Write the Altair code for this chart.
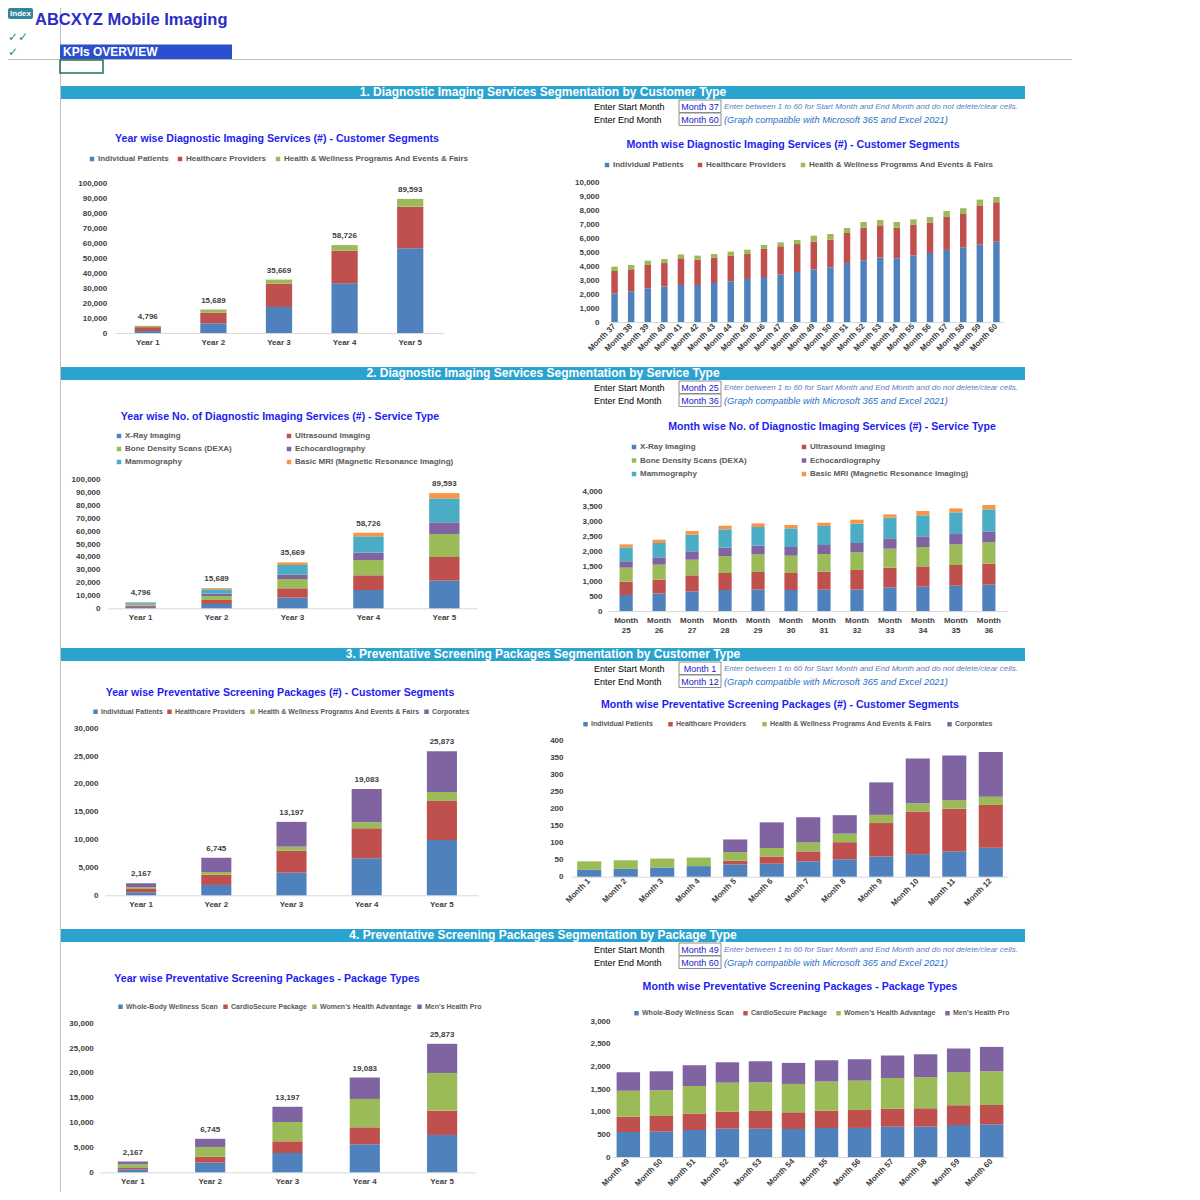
import altair as alt
import pandas as pd

# ---------------- data ----------------
years = ["Year 1", "Year 2", "Year 3", "Year 4", "Year 5"]
months_37_60 = ["Month %d" % i for i in range(37, 61)]
months_25_36 = ["Month %d" % i for i in range(25, 37)]
months_1_12 = ["Month %d" % i for i in range(1, 13)]
months_49_60 = ["Month %d" % i for i in range(49, 61)]

cust3 = ["Individual Patients", "Healthcare Providers",
         "Health & Wellness Programs And Events & Fairs"]
cust4 = cust3 + ["Corporates"]
services = ["X-Ray Imaging", "Ultrasound Imaging", "Bone Density Scans (DEXA)",
            "Echocardiography", "Mammography", "Basic MRI (Magnetic Resonance Imaging)"]
packages = ["Whole-Body Wellness Scan", "CardioSecure Package",
            "Women's Health Advantage", "Men's Health Pro"]

# 1. Diagnostic imaging - customer segments (yearly)
dy_ip = [1300, 6500, 17400, 33200, 56600]
dy_hp = [2600, 7100, 15600, 21800, 27800]
dy_hw = [896, 2089, 2669, 3726, 5193]
# 1. monthly (Month 37 - 60)
dm_ip = [2050, 2200, 2410, 2550, 2650, 2650, 2790, 2910, 3080, 3220, 3390, 3580,
         3750, 3910, 4220, 4420, 4610, 4560, 4750, 4940, 5160, 5350, 5540, 5750]
dm_hp = [1600, 1570, 1670, 1670, 1910, 1810, 1820, 1820, 1790, 2010, 2030, 2000,
         2000, 1980, 2150, 2330, 2310, 2190, 2200, 2170, 2360, 2380, 2810, 2820]
dm_hw = [310, 310, 310, 290, 280, 290, 260, 310, 310, 280, 280, 290,
         430, 410, 360, 410, 380, 410, 400, 410, 430, 410, 410, 380]

# 2. Diagnostic imaging - service type (yearly)
sy_xr = [1100, 3370, 8290, 14250, 21500]
sy_us = [950, 3110, 7250, 11400, 18400]
sy_dx = [950, 3110, 7260, 11910, 17900]
sy_ec = [480, 1810, 3370, 5700, 9040]
sy_mm = [1070, 3370, 7510, 12700, 18650]
sy_mr = [246, 919, 1989, 2766, 4103]
# 2. monthly (Month 25 - 36)
sm_xr = [535, 580, 657, 702, 713, 702, 713, 713, 791, 813, 846, 880]
sm_us = [445, 467, 535, 568, 590, 568, 601, 657, 657, 679, 691, 701]
sm_dx = [468, 501, 523, 567, 590, 579, 590, 590, 634, 646, 690, 713]
sm_ec = [212, 245, 278, 279, 290, 289, 301, 312, 346, 356, 345, 367]
sm_mm = [467, 479, 557, 612, 623, 624, 635, 646, 690, 702, 724, 735]
sm_mr = [100, 111, 122, 122, 123, 111, 111, 133, 111, 145, 134, 145]

# 3. Preventative screening - customer segments (yearly)
py_ip = [555, 1860, 4070, 6650, 9940]
py_hp = [584, 1850, 3950, 5390, 7010]
py_hw = [299, 480, 720, 1070, 1610]
py_co = [729, 2555, 4457, 5973, 7313]
# 3. monthly (Month 1 - 12)
pm_ip = [20, 23, 27, 31, 36, 38, 45, 51, 59, 66, 74, 85]
pm_hp = [0, 0, 0, 0, 11, 21, 29, 50, 98, 125, 125, 125]
pm_hw = [25, 25, 26, 25, 25, 25, 26, 25, 24, 24, 25, 24]
pm_co = [0, 0, 0, 0, 37, 75, 74, 54, 95, 131, 131, 131]

# 4. Preventative screening - package types (yearly)
ky_wb = [600, 1950, 3890, 5640, 7520]
ky_cs = [270, 1200, 2350, 3420, 4900]
ky_wh = [740, 1950, 3890, 5710, 7580]
ky_mh = [557, 1645, 3067, 4313, 5873]
# 4. monthly (Month 49 - 60)
km_wb = [553, 560, 597, 627, 627, 619, 642, 642, 671, 671, 708, 723]
km_cs = [339, 347, 362, 376, 391, 369, 383, 398, 398, 406, 435, 427]
km_wh = [575, 568, 612, 641, 634, 627, 642, 649, 679, 686, 730, 746]
km_mh = [406, 420, 458, 450, 465, 465, 472, 472, 494, 508, 524, 538]

section_titles = [
    "1. Diagnostic Imaging Services Segmentation by Customer Type",
    "2. Diagnostic Imaging Services Segmentation by Service Type",
    "3. Preventative Screening Packages Segmentation by Customer Type",
    "4. Preventative Screening Packages Segmentation by Package Type",
]
start_months = ["Month 37", "Month 25", "Month 1", "Month 49"]
end_months = ["Month 60", "Month 36", "Month 12", "Month 60"]

# ---------------- style ----------------
FONT = "Liberation Sans"
BLUE, RED, GREEN = "#4F81BD", "#C0504D", "#9BBB59"
PURPLE, CYAN, ORANGE = "#8064A2", "#4BACC6", "#F79646"
TITLE_C = "#1E1EF0"
AX_C = "#404040"
W, H = 1184, 1184

one = pd.DataFrame({"k": [0]})


def txt(s, x, y, size, color, weight="normal", align="left", style="normal", font=FONT):
    return alt.Chart(one).mark_text(
        text=s, align=align, baseline="middle", fontSize=size, fontWeight=weight,
        fontStyle=style, color=color, font=font
    ).encode(x=alt.value(x), y=alt.value(y))


def box(x1, y1, x2, y2, fill, stroke=None, sw=1.0, opacity=1.0, radius=0):
    kw = dict(fill=fill, fillOpacity=opacity, cornerRadius=radius)
    if stroke:
        kw.update(stroke=stroke, strokeWidth=sw)
    return alt.Chart(one).mark_rect(**kw).encode(
        x=alt.value(x1), x2=alt.value(x2), y=alt.value(y1), y2=alt.value(y2))


def line(x1, y1, x2, y2, color, sw=1.0):
    return alt.Chart(one).mark_rule(color=color, strokeWidth=sw).encode(
        x=alt.value(x1), x2=alt.value(x2), y=alt.value(y1), y2=alt.value(y2))


def stacked(cats, names, values, colors, xr, pi, po, yr, ydom, ystep, ylab,
            leg, totals=False, xlab="flat"):
    rows = []
    for si, (nm, vals) in enumerate(zip(names, values)):
        for c, v in zip(cats, vals):
            rows.append({"cat": c, "series": nm, "value": v, "idx": si})
    df = pd.DataFrame(rows)
    xscale = alt.Scale(range=xr, paddingInner=pi, paddingOuter=po)
    yscale = alt.Scale(domain=ydom, range=yr, nice=False, zero=True)
    xax = dict(orient="bottom", offset=-(H - yr[0]), domain=True, domainColor="#D9D9D9",
               ticks=False, grid=False, title=None, labelFont=FONT, labelFontSize=8,
               labelFontWeight="bold", labelColor=AX_C, labelOverlap=False)
    if xlab == "flat":
        xax.update(labelAngle=0, labelPadding=5, labelBaseline="top")
    elif xlab == "two":
        xax.update(labelAngle=0, labelPadding=5, labelBaseline="top",
                   labelExpr="split(datum.label, ' ')", labelLineHeight=10)
    else:
        xax.update(labelAngle=315, labelAlign="right", labelBaseline="middle",
                   labelPadding=3)
    yvals = list(range(ydom[0], ydom[1] + 1, ystep))
    yax = dict(orient="left", offset=-ylab, domain=False, ticks=False, grid=False,
               values=yvals, format=",d", title=None, labelFont=FONT,
               labelFontSize=8, labelFontWeight="bold", labelColor=AX_C,
               labelPadding=0, labelOverlap=False)
    legend = alt.Legend(orient="none", legendX=leg["x"], legendY=leg["y"],
                        direction="horizontal", columns=leg.get("cols", len(names)),
                        title=None, symbolType="square", symbolSize=leg.get("sym", 20),
                        symbolStrokeWidth=0, labelFont=FONT,
                        labelFontSize=leg.get("fs", 8), labelFontWeight="bold",
                        labelColor="#595959", columnPadding=leg["cp"],
                        rowPadding=leg.get("rp", 5), labelOffset=2, padding=0,
                        labelLimit=400)
    bars = alt.Chart(df).mark_bar().encode(
        x=alt.X("cat:N", sort=cats, scale=xscale, axis=alt.Axis(**xax)),
        y=alt.Y("value:Q", stack="zero", scale=yscale, axis=alt.Axis(**yax)),
        color=alt.Color("series:N", sort=names,
                        scale=alt.Scale(domain=names, range=colors), legend=legend),
        order=alt.Order("idx:Q", sort="ascending"),
    )
    if not totals:
        return bars
    tdf = pd.DataFrame({"cat": cats, "total": [sum(v) for v in zip(*values)]})
    text = alt.Chart(tdf).mark_text(
        baseline="bottom", dy=-5, fontSize=8, fontWeight="bold", color=AX_C, font=FONT
    ).encode(
        x=alt.X("cat:N", sort=cats, scale=xscale, axis=alt.Axis(**xax)),
        y=alt.Y("total:Q", scale=yscale, axis=alt.Axis(**yax)),
        text=alt.Text("total:Q", format=",d"),
    )
    return alt.layer(bars, text)


layers = []

# ---- page frame ----
layers.append(line(52.5, 0, 52.5, H, "#BFBFBF", 1))
layers.append(line(0, 51.5, 1064, 51.5, "#BFBFBF", 1))
layers.append(box(0, 0, 25, 11, "#31859C", radius=2))
layers.append(txt("Index", 12.5, 5.5, 8, "white", "bold", "center"))
layers.append(txt("ABCXYZ Mobile Imaging", 27, 12, 16.5, "#2B2BC6", "bold"))
layers.append(txt("\u2713\u2713", 0, 29, 12, "#2E8B57", font="DejaVu Sans"))
layers.append(txt("\u2713", 0, 43.5, 12, "#2E8B57", font="DejaVu Sans"))
layers.append(box(52, 36.5, 224, 51, "#2C4FCF"))
layers.append(txt("KPIs OVERVIEW", 55, 44, 12, "white", "bold"))
layers.append(box(52, 52, 95, 65, "white", stroke="#217346", sw=1.5, opacity=0))

# ---- section headers and input blocks ----
for i, T in enumerate([78, 359, 640, 921]):
    layers.append(box(53, T, 1017, T + 13, "#2AA3CF"))
    layers.append(txt(section_titles[i], 535, T + 5.8, 12, "white", "bold", "center"))
    layers.append(txt("Enter Start Month", 586, T + 21, 9, "#000000"))
    layers.append(txt("Enter End Month", 586, T + 34, 9, "#000000"))
    layers.append(box(671, T + 14, 713, T + 26.5, "white", stroke="#8C8C8C", sw=1))
    layers.append(box(671, T + 27, 713, T + 39.5, "white", stroke="#8C8C8C", sw=1))
    layers.append(txt(start_months[i], 692, T + 20.5, 9, "#1A1AC8", align="center"))
    layers.append(txt(end_months[i], 692, T + 33.5, 9, "#1A1AC8", align="center"))
    layers.append(txt("Enter between 1 to 60 for Start Month and End Month and do not delete/clear cells.",
                      716, T + 21, 8, "#5A7EC2", style="italic"))
    layers.append(txt("(Graph compatible with Microsoft 365 and Excel 2021)",
                      716, T + 34, 9.3, "#1F6FC8", style="italic"))

# ---- chart titles ----
titles = [
    ("Year wise Diagnostic Imaging Services (#) - Customer Segments", 269, 131),
    ("Month wise Diagnostic Imaging Services  (#)  - Customer Segments", 785, 137),
    ("Year wise No. of Diagnostic Imaging Services  (#)  - Service Type", 272, 409),
    ("Month wise No. of Diagnostic Imaging Services  (#)  - Service Type", 824, 419),
    ("Year wise Preventative Screening Packages (#)  - Customer Segments", 272, 685),
    ("Month wise Preventative Screening Packages (#)  - Customer Segments", 772, 697),
    ("Year wise Preventative Screening Packages - Package Types", 259, 971),
    ("Month wise Preventative Screening Packages - Package Types", 792, 979),
]
for s, x, y in titles:
    layers.append(txt(s, x, y, 10.6, TITLE_C, "bold", "center"))

# ---- charts ----
layers.append(stacked(years, cust3, [dy_ip, dy_hp, dy_hw], [BLUE, RED, GREEN],
                      [107, 435], 0.6, 0.3, [325, 175.3], [0, 100000], 10000, 98.7,
                      dict(x=80, y=147, cp=7), totals=True))
layers.append(stacked(months_37_60, cust3, [dm_ip, dm_hp, dm_hw], [BLUE, RED, GREEN],
                      [600, 995], 0.61, 0.2, [314, 174.3], [0, 10000], 1000, 591,
                      dict(x=595, y=153, cp=12), xlab="rot"))
layers.append(stacked(years, services, [sy_xr, sy_us, sy_dx, sy_ec, sy_mm, sy_mr],
                      [BLUE, RED, GREEN, PURPLE, CYAN, ORANGE],
                      [100, 469], 0.6, 0.23, [600.3, 471.7], [0, 100000], 10000, 92,
                      dict(x=107, y=424, cp=53, cols=2, rp=5), totals=True))
layers.append(stacked(months_25_36, services, [sm_xr, sm_us, sm_dx, sm_ec, sm_mm, sm_mr],
                      [BLUE, RED, GREEN, PURPLE, CYAN, ORANGE],
                      [600, 999], 0.6, 0.35, [603, 483.3], [0, 4000], 500, 594,
                      dict(x=622, y=435, cp=53, cols=2, rp=5.5), xlab="two"))
layers.append(stacked(years, cust4, [py_ip, py_hp, py_hw, py_co], [BLUE, RED, GREEN, PURPLE],
                      [97, 470], 0.6, 0.28, [887.3, 720.3], [0, 30000], 5000, 90,
                      dict(x=84, y=700, cp=3, fs=7), totals=True))
layers.append(stacked(months_1_12, cust4, [pm_ip, pm_hp, pm_hw, pm_co], [BLUE, RED, GREEN, PURPLE],
                      [563.7, 1000.3], 0.34, 0.15, [868.7, 732], [0, 400], 50, 555,
                      dict(x=574, y=712.5, cp=14, fs=7), xlab="rot"))
layers.append(stacked(years, packages, [ky_wb, ky_cs, ky_wh, ky_mh], [BLUE, RED, GREEN, PURPLE],
                      [92, 467], 0.61, 0.23, [1164.3, 1015.3], [0, 30000], 5000, 85.3,
                      dict(x=109, y=995, cp=4, fs=7), totals=True))
layers.append(stacked(months_49_60, packages, [km_wb, km_cs, km_wh, km_mh], [BLUE, RED, GREEN, PURPLE],
                      [605.3, 998.7], 0.29, 0.1, [1149, 1013.3], [0, 3000], 500, 602,
                      dict(x=625, y=1001.5, cp=8, fs=7), xlab="rot"))

chart = alt.layer(*layers).resolve_scale(
    x="independent", y="independent", color="independent"
).properties(
    width=W, height=H, padding=0, autosize=alt.AutoSizeParams(type="none"),
    background="white"
).configure_view(stroke=None)

chart.save("out.html", embed_options={"renderer": "svg", "actions": False})
